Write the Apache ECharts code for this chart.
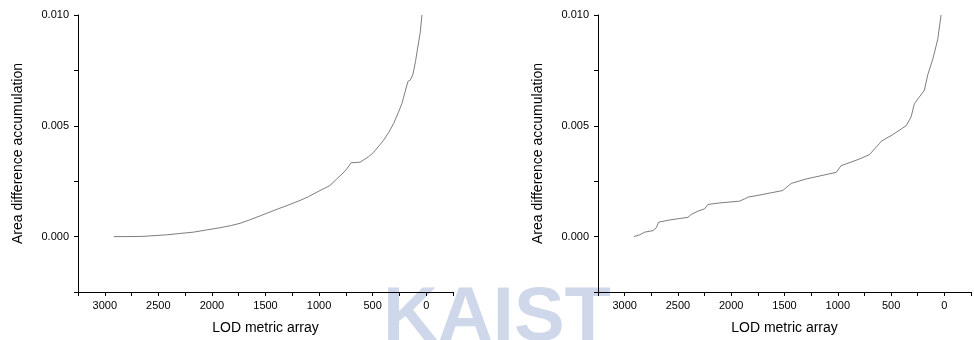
<!DOCTYPE html>
<html>
<head>
<meta charset="utf-8">
<script src="https://cdn.jsdelivr.net/npm/echarts@6/dist/echarts.min.js"></script>
<style>html,body{margin:0;padding:0;background:#fff;}#c{width:974px;height:340px;}</style>
</head>
<body>
<div id="c"></div>
<script>
const xAxisTitle = 'LOD metric array';
const yAxisTitle = 'Area difference accumulation';
const watermarkText = 'KAIST';

const leftX = [2916, 2800, 2642, 2550, 2423, 2300, 2174, 2050, 1925, 1820, 1738, 1650, 1558, 1411, 1300, 1178, 1100, 991, 900, 835, 760, 741, 701, 617, 601, 539, 492, 440, 399, 350, 305, 260, 227, 171, 150, 125, 100, 87, 56, 40];
const leftY = [0, 0, 0.00001, 0.00004, 0.00008, 0.00014, 0.0002, 0.0003, 0.0004, 0.0005, 0.0006, 0.00075, 0.00092, 0.0012, 0.0014, 0.00163, 0.0018, 0.00208, 0.0023, 0.0026, 0.00295, 0.00306, 0.00333, 0.00336, 0.0034, 0.0036, 0.0038, 0.0041, 0.00434, 0.0047, 0.0051, 0.0056, 0.006, 0.0070, 0.00706, 0.0073, 0.0079, 0.0083, 0.0092, 0.010];

const rightX = [2913, 2859, 2812, 2734, 2703, 2690, 2681, 2578, 2406, 2375, 2312, 2250, 2219, 2109, 1922, 1875, 1844, 1750, 1734, 1516, 1437, 1297, 1015, 969, 797, 703, 609, 593, 485, 359, 312, 281, 188, 156, 109, 62, 31];
const rightY = [0, 0.00008, 0.0002, 0.00027, 0.0004, 0.0004, 0.00065, 0.00075, 0.00087, 0.001, 0.00115, 0.00125, 0.00145, 0.00152, 0.0016, 0.0017, 0.00178, 0.00186, 0.0019, 0.00208, 0.0024, 0.0026, 0.0029, 0.0032, 0.0035, 0.0037, 0.0042, 0.0043, 0.0046, 0.005, 0.0054, 0.006, 0.0066, 0.0073, 0.008, 0.0089, 0.010];

const zip = (xs, ys) => xs.map((x, i) => [x, ys[i]]);
const font = 'Liberation Sans, Arial, sans-serif';

function xAx(gi) {
  return {
    type: 'value', gridIndex: gi, inverse: true, min: -250, max: 3250, interval: 250,
    name: xAxisTitle, nameLocation: 'middle', nameGap: 29,
    nameTextStyle: { fontFamily: font, fontSize: 14, color: '#000' },
    axisLine: { show: true, onZero: false, lineStyle: { color: '#000', width: 1 } },
    axisTick: { show: true, length: 4, lineStyle: { color: '#000' } },
    axisLabel: { fontFamily: font, fontSize: 11, color: '#000', margin: 8,
      formatter: v => (Math.abs(v % 500) < 1e-9 ? String(v) : '') },
    splitLine: { show: false }
  };
}
function yAx(gi) {
  return {
    type: 'value', gridIndex: gi, min: -0.0025, max: 0.010, interval: 0.0025,
    name: yAxisTitle, nameLocation: 'middle', nameGap: 53, nameRotate: 90,
    nameTextStyle: { fontFamily: font, fontSize: 14, color: '#000' },
    axisLine: { show: true, onZero: false, lineStyle: { color: '#000', width: 1 } },
    axisTick: { show: true, length: 4, lineStyle: { color: '#000' } },
    axisLabel: { fontFamily: font, fontSize: 11, color: '#000', margin: 9,
      formatter: v => { const r = v / 0.005; return (Math.abs(r - Math.round(r)) < 1e-6 && v > -0.001) ? v.toFixed(3) : ''; } },
    splitLine: { show: false }
  };
}

const chart = echarts.init(document.getElementById('c'), null, { renderer: 'canvas' });
chart.setOption({
  animation: false,
  backgroundColor: '#fff',
  graphic: [{
    type: 'text', left: 383, top: 281, z: -10, silent: true,
    style: { text: watermarkText, fontFamily: font, fontWeight: 'bold', fontSize: 76, fill: '#cfd8eb' }
  }],
  grid: [
    { left: 78, top: 15, width: 375, height: 277 },
    { left: 598, top: 15, width: 375, height: 277 }
  ],
  xAxis: [xAx(0), xAx(1)],
  yAxis: [yAx(0), yAx(1)],
  series: [
    { type: 'line', xAxisIndex: 0, yAxisIndex: 0, data: zip(leftX, leftY), showSymbol: false,
      lineStyle: { color: '#6e6e6e', width: 0.9 } },
    { type: 'line', xAxisIndex: 1, yAxisIndex: 1, data: zip(rightX, rightY), showSymbol: false,
      lineStyle: { color: '#6e6e6e', width: 0.9 } }
  ]
});
</script>
</body>
</html>
